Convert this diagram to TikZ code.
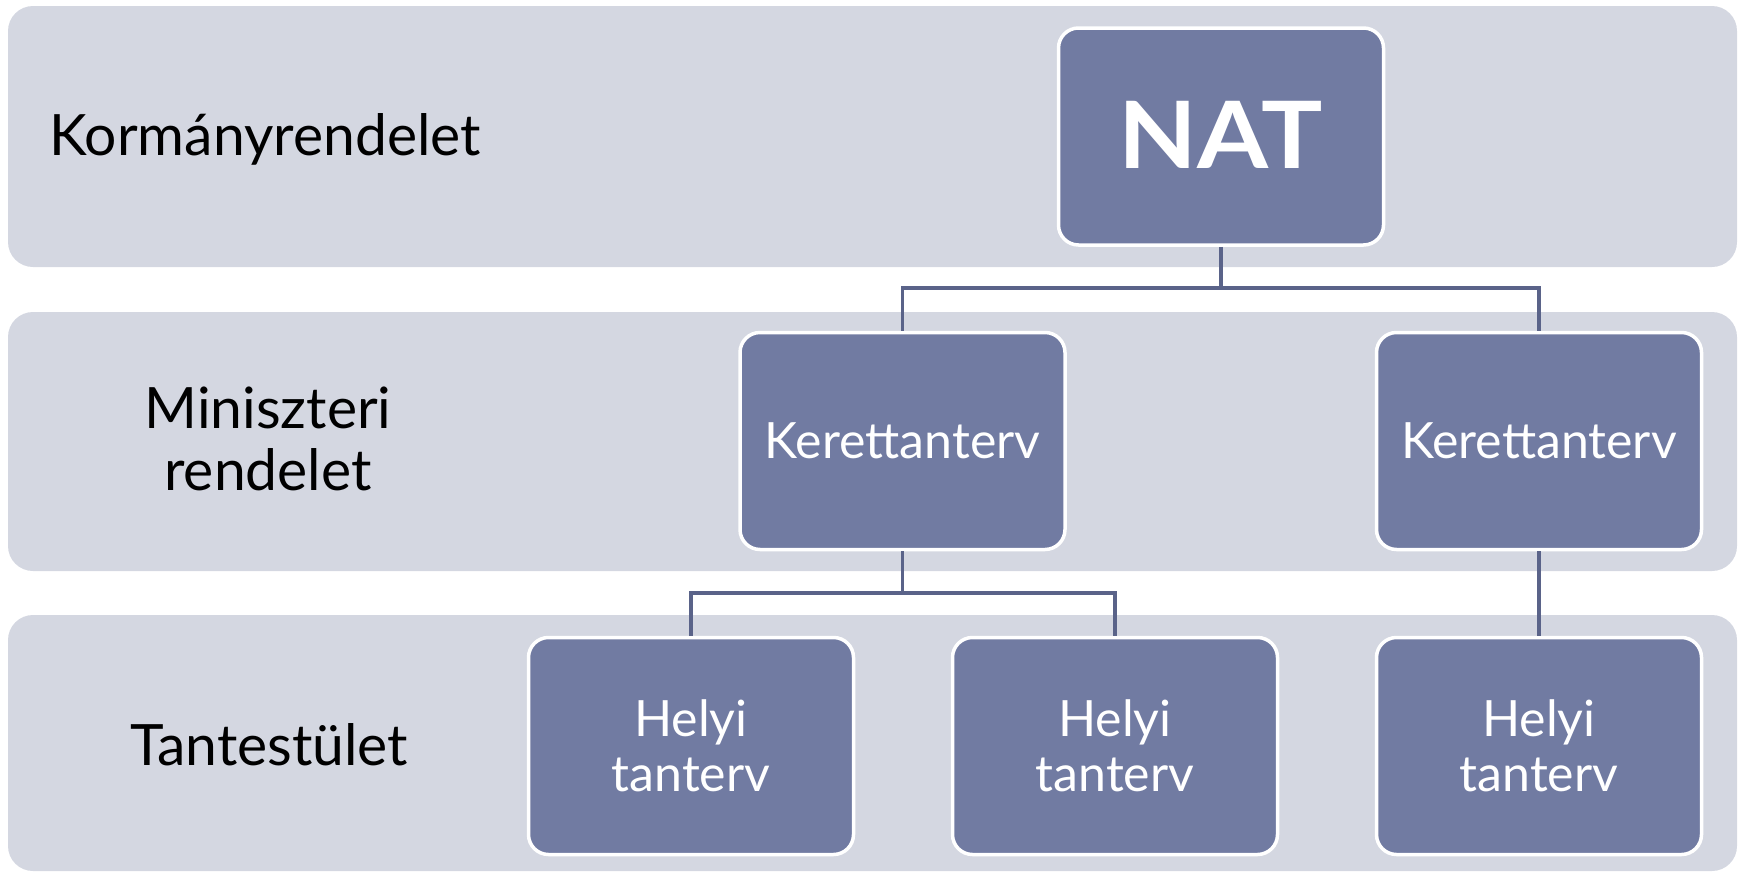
\documentclass[tikz,border=0pt]{standalone}
\usepackage{fontspec}
\usepackage{graphicx}
\setmainfont{Lato}
\definecolor{bandfill}{HTML}{D4D7E1}
\definecolor{boxfill}{HTML}{717BA2}
\definecolor{connline}{HTML}{5A6389}
\begin{document}
\begin{tikzpicture}[x=1pt,y=-1pt,
  band/.style={fill=bandfill, rounded corners=25pt},
  orgbox/.style={draw=white, line width=3.5pt, fill=boxfill, rounded corners=20pt,
    minimum width=325pt, minimum height=217pt, text=white, align=center,
    inner sep=0pt, font=\fontsize{50}{55}\selectfont},
  lvl/.style={align=center, anchor=base, font=\fontsize{57}{62}\selectfont,
    text=black, inner sep=0pt},
  conn/.style={draw=connline, line width=3.2pt}]
\useasboundingbox (0,0) rectangle (1745,873);
% bands
\fill[band] (8,6) rectangle (1737,267);
\fill[band] (8,312) rectangle (1737,571);
\fill[band] (8,615) rectangle (1737,871);
% level labels
\node[lvl] (l1) at (265,155) {Kormányrendelet};
\node[lvl] (l2) at (268,490) {Miniszteri\\rendelet};
\node[lvl] (l3) at (269,765) {Tantestület};
% boxes
\node[orgbox] (nat) at (1221,136.5) {\raisebox{3pt}{\scalebox{1.1}[1]{\bfseries\fontsize{93}{95}\selectfont NAT}}};
\node[orgbox] (k1) at (902.5,441) {Kerettanterv};
\node[orgbox] (k2) at (1539,441) {Kerettanterv};
\node[orgbox] (h1) at (691,746) {Helyi\\tanterv};
\node[orgbox] (h2) at (1115,746) {Helyi\\tanterv};
\node[orgbox] (h3) at (1539,746) {Helyi\\tanterv};
% connectors
\coordinate (j1) at (nat.south |- 0,288);
\coordinate (j2) at (k1.south |- 0,593);
\draw[conn] (nat.south) -- (j1) -| (k1.north);
\draw[conn] (j1) -| (k2.north);
\draw[conn] (k1.south) -- (j2) -| (h1.north);
\draw[conn] (j2) -| (h2.north);
\draw[conn] (k2.south) -- (h3.north);
\end{tikzpicture}
\end{document}
